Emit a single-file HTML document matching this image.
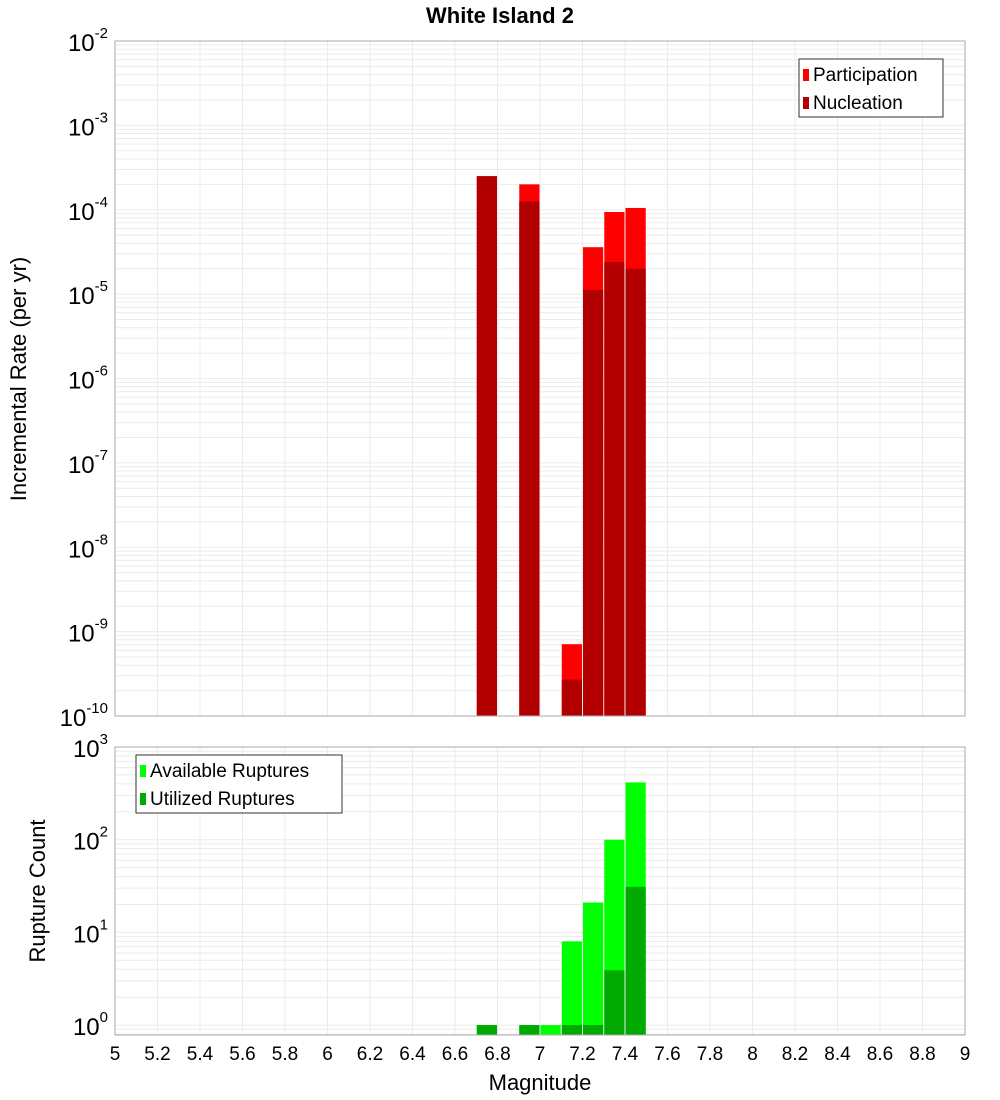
<!DOCTYPE html>
<html><head><meta charset="utf-8"><style>
body{margin:0;background:#fff;}
svg{display:block;font-family:"Liberation Sans","DejaVu Sans",sans-serif;}
</style></head><body>
<svg id="c" width="1000" height="1100" xmlns="http://www.w3.org/2000/svg"></svg>
<script>
const mags = [6.75, 6.95, 7.05, 7.15, 7.25, 7.35, 7.45];
const participation = [2.5e-4, 2.0e-4, null, 7.1e-10, 3.6e-5, 9.4e-5, 1.05e-4];
const nucleation = [2.5e-4, 1.26e-4, null, 2.7e-10, 1.12e-5, 2.4e-5, 2.0e-5];
const available = [1, 1, 1, 8, 21, 100, 415];
const utilized = [1, 1, 0, 1, 1, 3.9, 31];
const xTicks = [5,5.2,5.4,5.6,5.8,6,6.2,6.4,6.6,6.8,7,7.2,7.4,7.6,7.8,8,8.2,8.4,8.6,8.8,9];
const topExps = [-2,-3,-4,-5,-6,-7,-8,-9,-10];
const botExps = [3,2,1,0];

const NS="http://www.w3.org/2000/svg";
const svg=document.getElementById('c');
function el(t,a,p){const e=document.createElementNS(NS,t);for(const k in a)e.setAttribute(k,a[k]);(p||svg).appendChild(e);return e;}
const X0=115,X1=965;
const x=v=>X0+(v-5)/4*(X1-X0);
const T0=41,T1=716; const yT=v=>T0+(-2-Math.log10(v))/8*(T1-T0);
const B0=747,BD=92.7; const yB=v=>B0+(3-Math.log10(v))*BD; const B1=1035;

function grid(top,bot,yf,lo,hi){
  const g=el('g',{});
  
  for(let e=lo;e<=hi;e++)for(let m=1;m<10;m++){const y=yf(m*Math.pow(10,e));if(y<top||y>bot)continue;
    el('line',{x1:X0,x2:X1,y1:y,y2:y,stroke:'#ebebeb','stroke-width':1},g);}
  xTicks.forEach(t=>el('line',{x1:x(t),x2:x(t),y1:top,y2:bot,stroke:'#ebebeb'},g));
}
grid(T0,T1,yT,-11,-2);
grid(B0,B1,yB,-1,3);

const bw=20.2;
function bar(v,yf,bot,col,name){if(!v)return;const y=yf(v);
  const r=el('rect',{x:0,y:y,width:bw,height:bot-y,fill:col});
  r.setAttribute('x',x(name.m)-bw/2);
  }
mags.forEach((m,i)=>{
  bar(participation[i],yT,T1,'#ff0000',{m,n:'participation-bar'});
  bar(nucleation[i],yT,T1,'#b20000',{m,n:'nucleation-bar'});
  bar(available[i],yB,B1,'#00ff00',{m,n:'available-bar'});
  bar(utilized[i],yB,B1,'#00aa00',{m,n:'utilized-bar'});
});

el('rect',{x:X0,y:T0,width:X1-X0,height:T1-T0,fill:'none',stroke:'#aaa'});
el('rect',{x:X0,y:B0,width:X1-X0,height:B1-B0,fill:'none',stroke:'#aaa'});

function ylab(e,y,name){const t=el('text',{x:108,y:y+10,'text-anchor':'end','font-size':24,fill:'#000'});
  
  t.textContent='10';const s=document.createElementNS(NS,'tspan');s.setAttribute('dy',-13);s.setAttribute('font-size',15);s.textContent=String(e);t.appendChild(s);}
topExps.forEach(e=>ylab(e,yT(Math.pow(10,e)),'y-tick-label'));
botExps.forEach(e=>ylab(e,yB(Math.pow(10,e)),'y-tick-label'));
xTicks.forEach(t=>{const tx=el('text',{x:x(t),y:1060,'text-anchor':'middle','font-size':19});
  tx.textContent=String(t);});

let t=el('text',{x:500,y:23,'text-anchor':'middle','font-size':22,'font-weight':'bold'});t.textContent='White Island 2';
t=el('text',{x:540,y:1090,'text-anchor':'middle','font-size':22});t.textContent='Magnitude';
t=el('text',{x:0,y:0,'text-anchor':'middle','font-size':22,transform:'translate(26,379) rotate(-90)'});t.textContent='Incremental Rate (per yr)';
t=el('text',{x:0,y:0,'text-anchor':'middle','font-size':22,transform:'translate(45,891) rotate(-90)'});t.textContent='Rupture Count';

function legend(x0,y0,w,items,name){const g=el('g',{});
  el('rect',{x:x0,y:y0,width:w,height:58,fill:'#fff',stroke:'#333'},g);
  items.forEach((it,i)=>{el('rect',{x:x0+4,y:y0+10+i*28,width:6,height:12,fill:it[1]},g);
    const tt=el('text',{x:x0+14,y:y0+22+i*28,'font-size':19},g);tt.textContent=it[0];});}
legend(799,59,144,[['Participation','#ff0000'],['Nucleation','#b20000']],'top-legend');
legend(136,755,206,[['Available Ruptures','#00ff00'],['Utilized Ruptures','#00aa00']],'bottom-legend');
</script>
</body></html>
